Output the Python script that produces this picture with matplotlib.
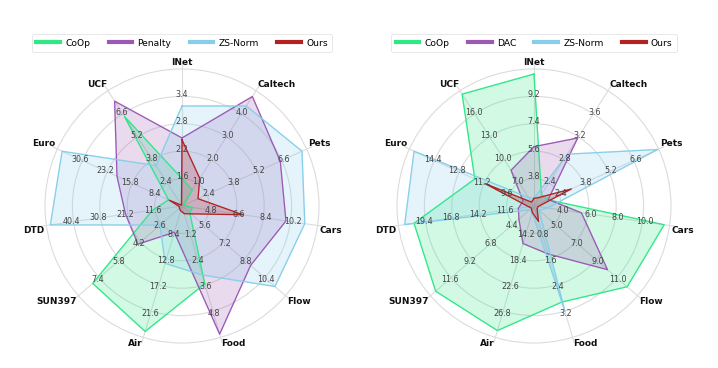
import numpy as np
import matplotlib
matplotlib.use('Agg')
import matplotlib.pyplot as plt
from matplotlib.lines import Line2D

categories = ['INet', 'Caltech', 'Pets', 'Cars', 'Flow', 'Food', 'Air', 'SUN397', 'DTD', 'Euro', 'UCF']

# per-axis ranges (min at centre, max at outer ring)
left_min = [1.0, 0.0, 1.0, 3.0, 4.0, 0.0, 4.0, 1.0, 2.0, 1.0, 1.0]
left_max = [4.0, 5.0, 8.0, 12.0, 12.0, 6.0, 26.0, 9.0, 50.0, 38.0, 8.0]
right_min = [2.0, 2.0, 1.0, 2.0, 3.0, 0.0, 10.0, 2.0, 9.0, 8.0, 4.0]
right_max = [11.0, 4.0, 8.0, 12.0, 13.0, 4.0, 31.0, 14.0, 22.0, 16.0, 19.0]

# left chart series
left_coop = [1.6, 0.7, 1.1, 3.7, 4.6, 3.55, 25.0, 7.9, 12.5, 5.0, 6.44]
left_penalty = [2.49, 4.75, 6.52, 9.9, 9.3, 5.85, 8.4, 4.4, 22.0, 20.3, 7.37]
left_zsnorm = [3.19, 4.34, 7.74, 11.15, 11.18, 3.15, 13.6, 2.7, 48.6, 36.6, 3.45]
left_ours = [2.45, 1.2, 1.9, 7.04, 4.7, 0.35, 4.8, 1.2, 3.0, 4.8, 1.05]

# right chart series
right_coop = [10.67, 2.2, 1.77, 11.6, 12.0, 2.92, 29.9, 13.4, 20.5, 11.8, 18.56]
right_dac = [5.9, 3.18, 1.8, 5.5, 10.1, 1.46, 16.0, 3.75, 10.5, 8.7, 8.65]
right_zsnorm = [2.5, 2.9, 7.95, 3.0, 3.5, 3.2, 11.0, 2.5, 21.4, 15.7, 5.1]
right_ours = [2.5, 2.15, 3.1, 2.3, 3.3, 0.47, 11.0, 2.3, 9.5, 11.15, 4.5]

colors = {'CoOp': '#2EE886', 'Penalty': '#9B59B6', 'DAC': '#9B59B6',
          'ZS-Norm': '#87CEEB', 'Ours': '#B22222'}

W, H = 718, 368
fig = plt.figure(figsize=(W / 100, H / 100), dpi=100)

R_PX = 137.0
RMAX = 1.045
N = len(categories)
angles = np.arange(N) * 2 * np.pi / N


def radar(cx, cy, mins, maxs, series):
    rad = R_PX * RMAX
    ax = fig.add_axes([(cx - rad) / W, 1 - (cy + rad) / H, 2 * rad / W, 2 * rad / H], polar=True)
    ax.set_theta_zero_location('N')
    ax.set_theta_direction(-1)
    ax.set_ylim(0, RMAX)
    ax.set_xticks(angles)
    ax.set_xticklabels([])
    ax.set_yticks([0.2, 0.4, 0.6, 0.8, 1.0])
    ax.set_yticklabels([])
    ax.grid(True, color='#dcdcdc', lw=0.8)
    ax.spines['polar'].set_visible(False)
    ax.tick_params(length=0)
    for i in range(N):
        grid = np.linspace(mins[i], maxs[i], 6)
        for k in range(1, 5):
            ax.text(angles[i], k / 5 + 0.015, f'{grid[k]:.1f}', ha='center', va='center',
                    fontsize=5.8, color='#444444', zorder=5)
        s, c = np.sin(angles[i]), np.cos(angles[i])
        ha = 'left' if s > 0.1 else ('right' if s < -0.1 else 'center')
        va = 'bottom' if c > 0.1 else ('top' if c < -0.1 else 'center')
        ax.text(angles[i], 1.015, categories[i], ha=ha, va=va,
                fontsize=6.5, fontweight='bold', color='#111111')
    th = np.append(angles, angles[0])
    for name, vals in series:
        norm = [(v - lo) / (hi - lo) for v, lo, hi in zip(vals, mins, maxs)]
        norm.append(norm[0])
        col = colors[name]
        ax.fill(th, norm, color=col, alpha=0.22, zorder=2)
        ax.plot(th, norm, color=col, lw=0.9, zorder=3)
    handles = [Line2D([0], [0], color=colors[n], lw=3) for n, _ in series]
    leg = fig.legend(handles, [n for n, _ in series], loc='center',
                     bbox_to_anchor=(cx / W, 1 - 43 / H), ncol=4, fontsize=6.6,
                     handlelength=2.6, handletextpad=0.55, columnspacing=2.0,
                     frameon=True, fancybox=True, borderpad=0.45)
    leg.get_frame().set_edgecolor('#dddddd')
    leg.get_frame().set_linewidth(0.6)
    return ax


radar(182, 206, left_min, left_max,
      [('CoOp', left_coop), ('Penalty', left_penalty), ('ZS-Norm', left_zsnorm), ('Ours', left_ours)])
radar(534, 206, right_min, right_max,
      [('CoOp', right_coop), ('DAC', right_dac), ('ZS-Norm', right_zsnorm), ('Ours', right_ours)])

fig.savefig('out.png', dpi=100)
